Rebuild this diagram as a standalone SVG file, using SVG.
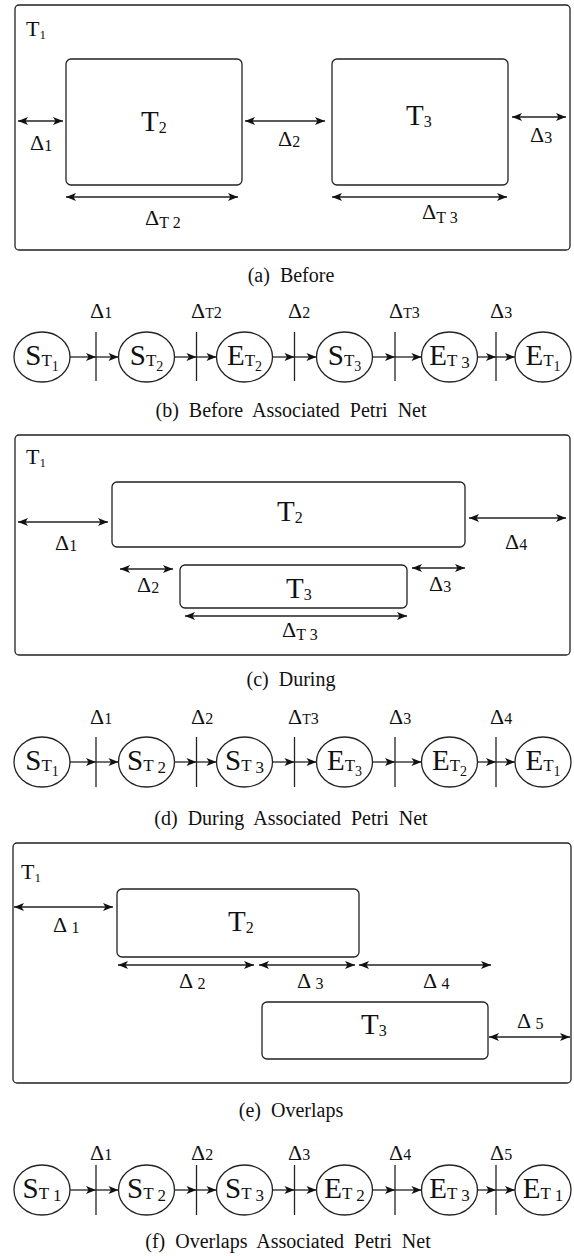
<svg xmlns="http://www.w3.org/2000/svg" width="574" height="1256" viewBox="0 0 574 1256">
<style>
text{font-family:"Liberation Serif","Times New Roman",serif;fill:#111}
.box{fill:none;stroke:#222;stroke-width:1.3}
.dim{fill:none;stroke:#222;stroke-width:1.4;marker-start:url(#ah);marker-end:url(#ah)}
.arr{fill:none;stroke:#222;stroke-width:1.3;marker-end:url(#ah2)}
.bar{stroke:#222;stroke-width:1.3}
.pl{fill:none;stroke:#222;stroke-width:1.3}
.cap{font-size:20px;word-spacing:5px;text-anchor:middle}
.tl{font-size:22px}
.tb{font-size:29px}
.tbs{font-size:16px}
.d{font-size:22px}
.ds{font-size:16px}
.ps{font-size:29px;text-anchor:middle}
.p1{font-size:17px}
.p2{font-size:14px}
</style>
<defs>
<marker id="ah" viewBox="0 0 10 8" refX="10" refY="4" markerWidth="11" markerHeight="8" markerUnits="userSpaceOnUse" orient="auto-start-reverse"><path d="M0,0 L10,4 L0,8 L2.5,4 z" fill="#111"/></marker>
<marker id="ah2" viewBox="0 0 10 8" refX="10" refY="4" markerWidth="11" markerHeight="8" markerUnits="userSpaceOnUse" orient="auto"><path d="M0,0 L10,4 L0,8 L2.5,4 z" fill="#111"/></marker>
</defs>

<!-- Panel (a) -->
<g id="a-T1"><rect class="box" x="15" y="5" width="555" height="245" rx="4"/><text class="tl" x="26" y="36">T<tspan font-size="13" dy="3">1</tspan></text></g>
<g id="a-T2"><rect class="box" x="66" y="59" width="176" height="126" rx="5"/><text class="tb" x="141" y="131">T<tspan class="tbs" dy="2">2</tspan></text></g>
<g id="a-T3"><rect class="box" x="332" y="59" width="176" height="126" rx="5"/><text class="tb" x="406" y="125">T<tspan class="tbs" dy="2">3</tspan></text></g>
<g id="a-connectors">
<line class="dim" x1="18" y1="121" x2="63" y2="121"/>
<line class="dim" x1="245" y1="121" x2="325" y2="121"/>
<line class="dim" x1="512" y1="117" x2="566" y2="117"/>
<line class="dim" x1="66" y1="197" x2="238" y2="197"/>
<line class="dim" x1="332" y1="197" x2="507" y2="197"/>
</g>
<g id="a-labels">
<text class="d" x="30" y="150">Δ<tspan class="ds" dy="1">1</tspan></text>
<text class="d" x="278" y="146">Δ<tspan class="ds" dy="1">2</tspan></text>
<text class="d" x="530" y="142">Δ<tspan class="ds" dy="1">3</tspan></text>
<text class="d" x="145" y="225">Δ<tspan class="ds" dy="3">T 2</tspan></text>
<text class="d" x="422" y="219">Δ<tspan class="ds" dy="4">T 3</tspan></text>
</g>
<text class="cap" x="291" y="282">(a) Before</text>

<!-- Petri net (b) -->
<g id="b-connectors">
<line class="arr" x1="70" y1="357" x2="96" y2="357"/><line class="arr" x1="96" y1="357" x2="118.5" y2="357"/>
<line class="arr" x1="174.5" y1="357" x2="196.5" y2="357"/><line class="arr" x1="196.5" y1="357" x2="216.5" y2="357"/>
<line class="arr" x1="272.5" y1="357" x2="294.5" y2="357"/><line class="arr" x1="294.5" y1="357" x2="316.5" y2="357"/>
<line class="arr" x1="372.5" y1="357" x2="395" y2="357"/><line class="arr" x1="395" y1="357" x2="421.5" y2="357"/>
<line class="arr" x1="477.5" y1="357" x2="496" y2="357"/><line class="arr" x1="496" y1="357" x2="515" y2="357"/>
</g>
<g id="b-transitions">
<line class="bar" x1="96" y1="332" x2="96" y2="381"/>
<line class="bar" x1="196.5" y1="332" x2="196.5" y2="381"/>
<line class="bar" x1="294.5" y1="332" x2="294.5" y2="381"/>
<line class="bar" x1="395" y1="332" x2="395" y2="381"/>
<line class="bar" x1="496" y1="332" x2="496" y2="381"/>
<text class="d" x="90" y="318">Δ<tspan class="ds">1</tspan></text>
<text class="d" x="191" y="318">Δ<tspan font-size="14">T</tspan><tspan class="ds">2</tspan></text>
<text class="d" x="288" y="318">Δ<tspan class="ds">2</tspan></text>
<text class="d" x="389" y="318">Δ<tspan font-size="14">T</tspan><tspan class="ds">3</tspan></text>
<text class="d" x="490" y="318">Δ<tspan class="ds">3</tspan></text>
</g>
<g id="b-ST1"><ellipse class="pl" cx="42" cy="357" rx="28" ry="25"/><text class="ps" x="42" y="365">S<tspan class="p1" dy="1">T</tspan><tspan class="p2" dy="5">1</tspan></text></g>
<g id="b-ST2"><ellipse class="pl" cx="146.5" cy="357" rx="28" ry="25"/><text class="ps" x="146.5" y="365">S<tspan class="p1" dy="1">T</tspan><tspan class="p2" dy="5">2</tspan></text></g>
<g id="b-ET2"><ellipse class="pl" cx="244.5" cy="357" rx="28" ry="25"/><text class="ps" x="244.5" y="365">E<tspan class="p1" dy="1">T</tspan><tspan class="p2" dy="5">2</tspan></text></g>
<g id="b-ST3"><ellipse class="pl" cx="344.5" cy="357" rx="28" ry="25"/><text class="ps" x="344.5" y="365">S<tspan class="p1" dy="1">T</tspan><tspan class="p2" dy="5">3</tspan></text></g>
<g id="b-ET3"><ellipse class="pl" cx="449.5" cy="357" rx="28" ry="25"/><text class="ps" x="449.5" y="365">E<tspan class="p1" dy="1">T</tspan><tspan class="p1" dy="2"> 3</tspan></text></g>
<g id="b-ET1"><ellipse class="pl" cx="543" cy="357" rx="28" ry="25"/><text class="ps" x="543" y="365">E<tspan class="p1" dy="1">T</tspan><tspan class="p2" dy="5">1</tspan></text></g>
<text class="cap" x="291" y="417">(b) Before Associated Petri Net</text>

<!-- Panel (c) -->
<g id="c-T1"><rect class="box" x="15" y="435" width="555" height="220" rx="4"/><text class="tl" x="26" y="464">T<tspan font-size="13" dy="3">1</tspan></text></g>
<g id="c-T2"><rect class="box" x="112" y="482" width="353" height="65" rx="5"/><text class="tb" x="277" y="521">T<tspan class="tbs" dy="2">2</tspan></text></g>
<g id="c-T3"><rect class="box" x="180" y="565" width="227" height="43" rx="5"/><text class="tb" x="286" y="598">T<tspan class="tbs" dy="2">3</tspan></text></g>
<g id="c-connectors">
<line class="dim" x1="18" y1="522" x2="108" y2="522"/>
<line class="dim" x1="469" y1="518" x2="566" y2="518"/>
<line class="dim" x1="120" y1="569" x2="173" y2="569"/>
<line class="dim" x1="412" y1="568" x2="465" y2="568"/>
<line class="dim" x1="185" y1="616" x2="407" y2="616"/>
</g>
<g id="c-labels">
<text class="d" x="55" y="550">Δ<tspan class="ds" dy="1">1</tspan></text>
<text class="d" x="505" y="549">Δ<tspan class="ds" dy="1">4</tspan></text>
<text class="d" x="137" y="592">Δ<tspan class="ds" dy="1">2</tspan></text>
<text class="d" x="429" y="591">Δ<tspan class="ds" dy="1">3</tspan></text>
<text class="d" x="282" y="637">Δ<tspan class="ds" dy="3">T 3</tspan></text>
</g>
<text class="cap" x="291" y="686">(c) During</text>

<!-- Petri net (d) -->
<g id="d-connectors">
<line class="arr" x1="70" y1="762" x2="96" y2="762"/><line class="arr" x1="96" y1="762" x2="118.5" y2="762"/>
<line class="arr" x1="174.5" y1="762" x2="196.5" y2="762"/><line class="arr" x1="196.5" y1="762" x2="216.5" y2="762"/>
<line class="arr" x1="272.5" y1="762" x2="294.5" y2="762"/><line class="arr" x1="294.5" y1="762" x2="316.5" y2="762"/>
<line class="arr" x1="372.5" y1="762" x2="395" y2="762"/><line class="arr" x1="395" y1="762" x2="421.5" y2="762"/>
<line class="arr" x1="477.5" y1="762" x2="496" y2="762"/><line class="arr" x1="496" y1="762" x2="515" y2="762"/>
</g>
<g id="d-transitions">
<line class="bar" x1="96" y1="737" x2="96" y2="787"/>
<line class="bar" x1="196.5" y1="737" x2="196.5" y2="787"/>
<line class="bar" x1="294.5" y1="737" x2="294.5" y2="787"/>
<line class="bar" x1="395" y1="737" x2="395" y2="787"/>
<line class="bar" x1="496" y1="737" x2="496" y2="787"/>
<text class="d" x="90" y="724">Δ<tspan class="ds">1</tspan></text>
<text class="d" x="191" y="724">Δ<tspan class="ds">2</tspan></text>
<text class="d" x="288" y="724">Δ<tspan font-size="14">T</tspan><tspan class="ds">3</tspan></text>
<text class="d" x="389" y="724">Δ<tspan class="ds">3</tspan></text>
<text class="d" x="490" y="724">Δ<tspan class="ds">4</tspan></text>
</g>
<g id="d-ST1"><ellipse class="pl" cx="42" cy="762" rx="28" ry="25"/><text class="ps" x="42" y="770">S<tspan class="p1" dy="1">T</tspan><tspan class="p2" dy="5">1</tspan></text></g>
<g id="d-ST2"><ellipse class="pl" cx="146.5" cy="762" rx="28" ry="25"/><text class="ps" x="146.5" y="770">S<tspan class="p1" dy="1">T</tspan><tspan class="p1" dy="2"> 2</tspan></text></g>
<g id="d-ST3"><ellipse class="pl" cx="244.5" cy="762" rx="28" ry="25"/><text class="ps" x="244.5" y="770">S<tspan class="p1" dy="1">T</tspan><tspan class="p1" dy="2"> 3</tspan></text></g>
<g id="d-ET3"><ellipse class="pl" cx="344.5" cy="762" rx="28" ry="25"/><text class="ps" x="344.5" y="770">E<tspan class="p1" dy="1">T</tspan><tspan class="p2" dy="5">3</tspan></text></g>
<g id="d-ET2"><ellipse class="pl" cx="449.5" cy="762" rx="28" ry="25"/><text class="ps" x="449.5" y="770">E<tspan class="p1" dy="1">T</tspan><tspan class="p2" dy="5">2</tspan></text></g>
<g id="d-ET1"><ellipse class="pl" cx="543" cy="762" rx="28" ry="25"/><text class="ps" x="543" y="770">E<tspan class="p1" dy="1">T</tspan><tspan class="p2" dy="5">1</tspan></text></g>
<text class="cap" x="291" y="825">(d) During Associated Petri Net</text>

<!-- Panel (e) -->
<g id="e-T1"><rect class="box" x="13" y="843" width="558" height="240" rx="4"/><text class="tl" x="21" y="879">T<tspan font-size="13" dy="3">1</tspan></text></g>
<g id="e-T2"><rect class="box" x="117" y="889" width="242" height="68" rx="5"/><text class="tb" x="228" y="931">T<tspan class="tbs" dy="2">2</tspan></text></g>
<g id="e-T3"><rect class="box" x="262" y="1002" width="226" height="57" rx="5"/><text class="tb" x="361" y="1034">T<tspan class="tbs" dy="2">3</tspan></text></g>
<g id="e-connectors">
<line class="dim" x1="14" y1="907" x2="113" y2="907"/>
<line class="dim" x1="118" y1="965" x2="254" y2="965"/>
<line class="dim" x1="259" y1="965" x2="355" y2="965"/>
<line class="dim" x1="359" y1="965" x2="491" y2="965"/>
<line class="dim" x1="489" y1="1037" x2="570" y2="1037"/>
</g>
<g id="e-labels">
<text class="d" font-size="21" x="53" y="932">Δ <tspan class="ds" font-size="15" dy="1">1</tspan></text>
<text class="d" font-size="21" x="179" y="988">Δ <tspan class="ds" font-size="15" dy="1">2</tspan></text>
<text class="d" font-size="21" x="297" y="988">Δ <tspan class="ds" font-size="15" dy="1">3</tspan></text>
<text class="d" font-size="21" x="423" y="988">Δ <tspan class="ds" font-size="15" dy="1">4</tspan></text>
<text class="d" font-size="21" x="517" y="1028">Δ <tspan class="ds" font-size="15" dy="1">5</tspan></text>
</g>
<text class="cap" x="291" y="1117">(e) Overlaps</text>

<!-- Petri net (f) -->
<g id="f-connectors">
<line class="arr" x1="70" y1="1190" x2="96" y2="1190"/><line class="arr" x1="96" y1="1190" x2="118.5" y2="1190"/>
<line class="arr" x1="174.5" y1="1190" x2="196.5" y2="1190"/><line class="arr" x1="196.5" y1="1190" x2="216.5" y2="1190"/>
<line class="arr" x1="272.5" y1="1190" x2="294.5" y2="1190"/><line class="arr" x1="294.5" y1="1190" x2="316.5" y2="1190"/>
<line class="arr" x1="372.5" y1="1190" x2="395" y2="1190"/><line class="arr" x1="395" y1="1190" x2="421.5" y2="1190"/>
<line class="arr" x1="477.5" y1="1190" x2="496" y2="1190"/><line class="arr" x1="496" y1="1190" x2="515" y2="1190"/>
</g>
<g id="f-transitions">
<line class="bar" x1="96" y1="1165" x2="96" y2="1215"/>
<line class="bar" x1="196.5" y1="1165" x2="196.5" y2="1215"/>
<line class="bar" x1="294.5" y1="1165" x2="294.5" y2="1215"/>
<line class="bar" x1="395" y1="1165" x2="395" y2="1215"/>
<line class="bar" x1="496" y1="1165" x2="496" y2="1215"/>
<text class="d" x="90" y="1160">Δ<tspan class="ds">1</tspan></text>
<text class="d" x="191" y="1160">Δ<tspan class="ds">2</tspan></text>
<text class="d" x="288" y="1160">Δ<tspan class="ds">3</tspan></text>
<text class="d" x="389" y="1160">Δ<tspan class="ds">4</tspan></text>
<text class="d" x="490" y="1160">Δ<tspan class="ds">5</tspan></text>
</g>
<g id="f-ST1"><ellipse class="pl" cx="42" cy="1190" rx="28" ry="25"/><text class="ps" x="42" y="1198">S<tspan class="p1" dy="1">T</tspan><tspan class="p1" dy="2"> 1</tspan></text></g>
<g id="f-ST2"><ellipse class="pl" cx="146.5" cy="1190" rx="28" ry="25"/><text class="ps" x="146.5" y="1198">S<tspan class="p1" dy="1">T</tspan><tspan class="p1" dy="2"> 2</tspan></text></g>
<g id="f-ST3"><ellipse class="pl" cx="244.5" cy="1190" rx="28" ry="25"/><text class="ps" x="244.5" y="1198">S<tspan class="p1" dy="1">T</tspan><tspan class="p1" dy="2"> 3</tspan></text></g>
<g id="f-ET2"><ellipse class="pl" cx="344.5" cy="1190" rx="28" ry="25"/><text class="ps" x="344.5" y="1198">E<tspan class="p1" dy="1">T</tspan><tspan class="p1" dy="2"> 2</tspan></text></g>
<g id="f-ET3"><ellipse class="pl" cx="449.5" cy="1190" rx="28" ry="25"/><text class="ps" x="449.5" y="1198">E<tspan class="p1" dy="1">T</tspan><tspan class="p1" dy="2"> 3</tspan></text></g>
<g id="f-ET1"><ellipse class="pl" cx="543" cy="1190" rx="28" ry="25"/><text class="ps" x="543" y="1198">E<tspan class="p1" dy="1">T</tspan><tspan class="p1" dy="2"> 1</tspan></text></g>
<text class="cap" x="288" y="1248">(f) Overlaps Associated Petri Net</text>
</svg>
